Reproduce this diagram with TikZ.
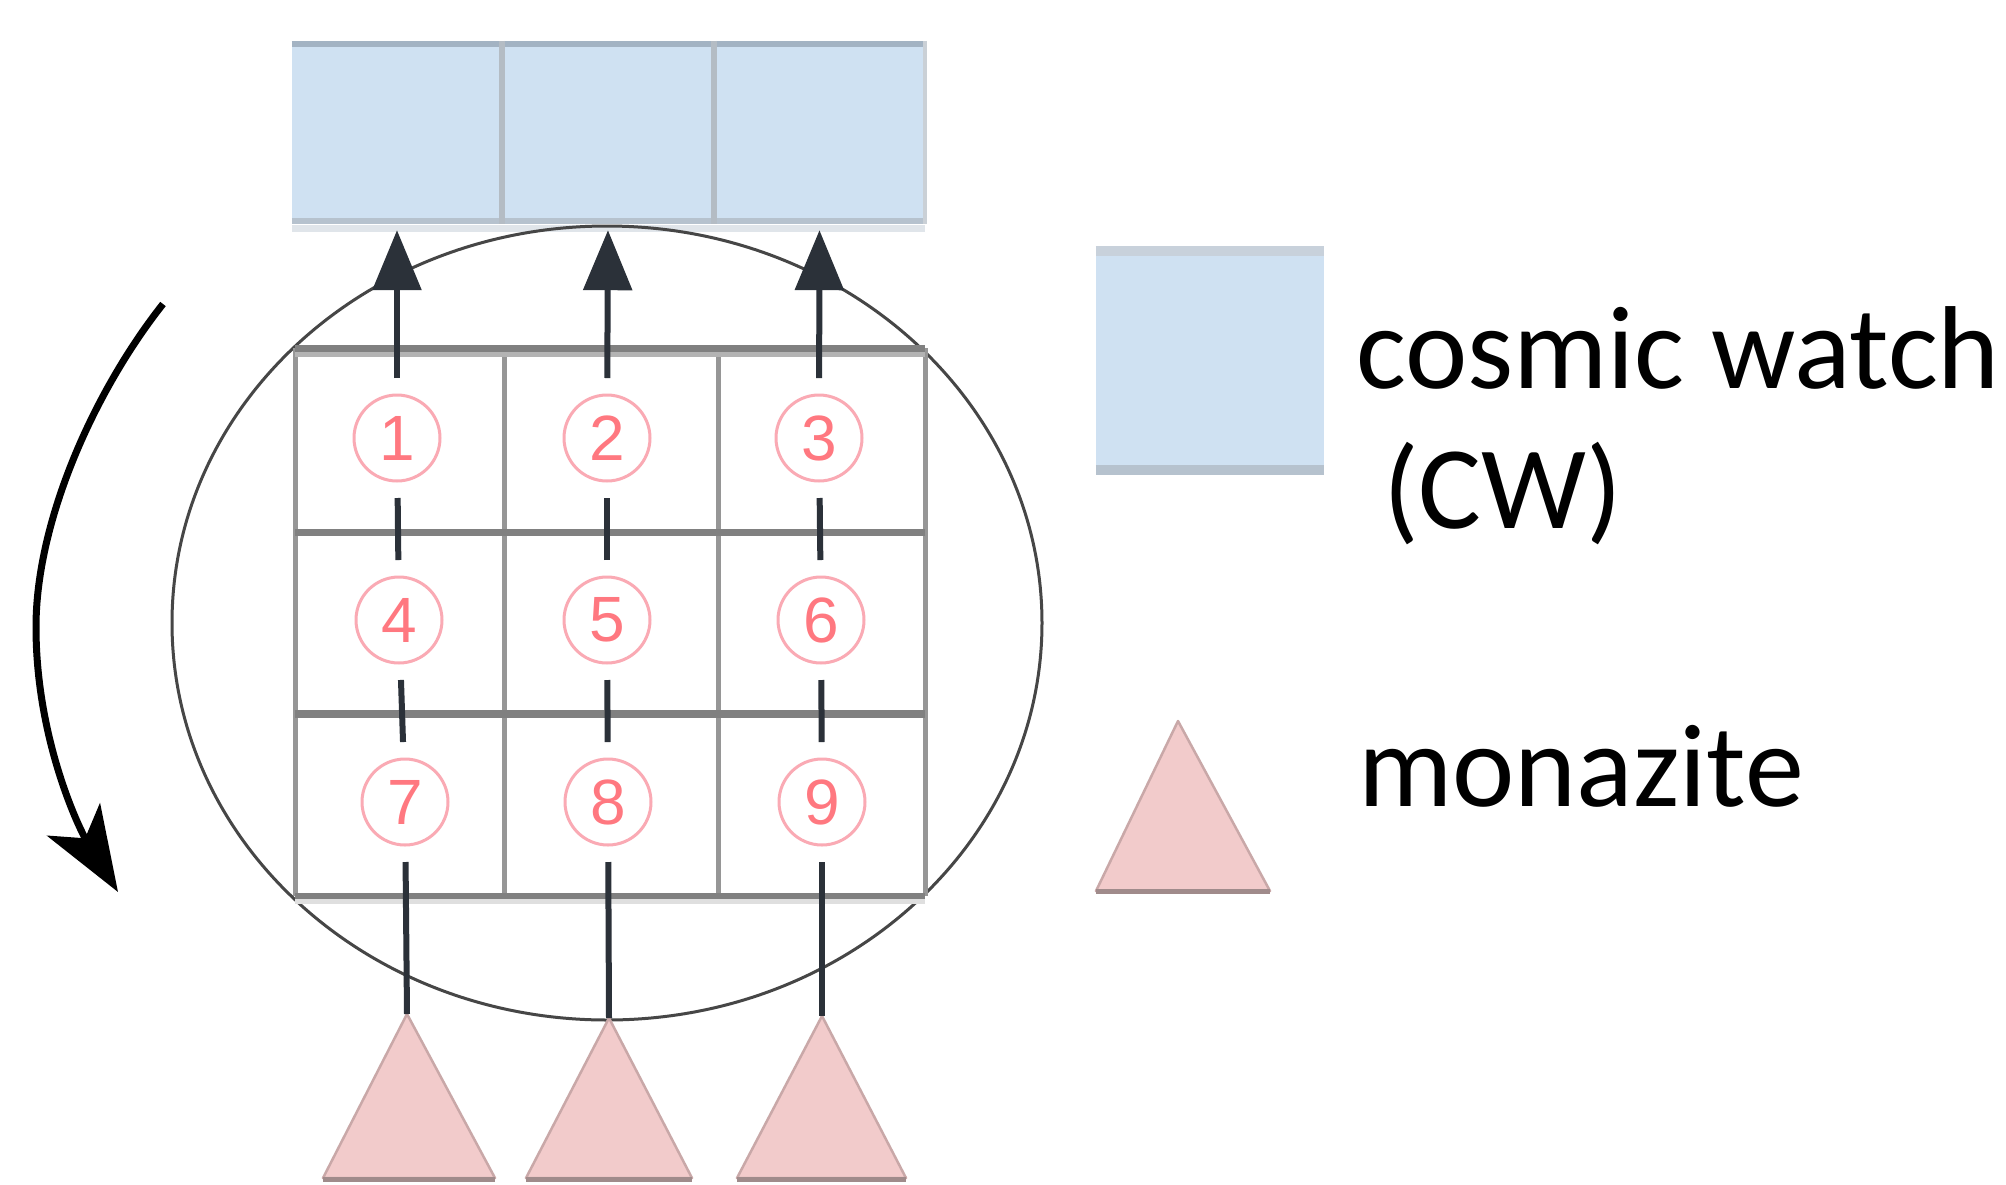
\documentclass[tikz,border=0pt]{standalone}
\usepackage{fontspec}
\setmainfont{Carlito}
\newfontfamily\digitfont{Liberation Sans}
\usetikzlibrary{arrows.meta}
\definecolor{cwblue}{RGB}{207,225,242}
\definecolor{cwtop}{RGB}{163,179,195}
\definecolor{cwbot}{RGB}{182,194,206}
\definecolor{cwlight}{RGB}{224,229,234}
\definecolor{cwdiv}{RGB}{180,188,196}
\definecolor{gridc}{RGB}{128,128,128}
\definecolor{gridv}{RGB}{150,150,150}
\definecolor{ellc}{RGB}{70,70,70}
\definecolor{arrowc}{RGB}{43,49,57}
\definecolor{digitc}{RGB}{255,120,128}
\definecolor{digitring}{RGB}{250,170,180}
\definecolor{monac}{RGB}{242,203,203}
\definecolor{monaedge}{RGB}{201,168,168}
\definecolor{monabase}{RGB}{160,139,139}
\tikzset{
  cwbox/.style={fill=cwblue, draw=none, inner sep=0pt, minimum height=183pt},
  digit/.style={ellipse-free, circle, draw=digitring, line width=3pt, inner sep=0pt,
    minimum size=86pt, outer sep=17pt, text=digitc, font=\digitfont\fontsize{64}{64}\selectfont},
  ellipse-free/.style={},
  flow/.style={draw=arrowc, line width=6pt},
  flowup/.style={flow, -{Triangle[length=60pt,width=48pt]}, shorten >=6pt},
  mona/.style={fill=monac, draw=monaedge, line width=2.5pt, line join=round},
  monabaseline/.style={draw=monabase, line width=5pt},
  label/.style={inner sep=0pt, anchor=base west, font=\fontsize{118}{140}\selectfont},
}
\begin{document}
\begin{tikzpicture}[x=1pt,y=-1pt]
\useasboundingbox (0,0) rectangle (2006,1184);
\fill[white] (0,0) rectangle (2006,1184);

% detector boxes (cosmic watches)
\node[cwbox, minimum width=210pt] (b1) at (397,132.5) {};
\node[cwbox, minimum width=212pt] (b2) at (608,132.5) {};
\node[cwbox, minimum width=211pt] (b3) at (819.5,132.5) {};
\draw[cwtop, line width=6pt] (b1.north west) ++(0,3) -- ([yshift=-3pt]b3.north east);
\draw[cwbot, line width=6pt] (b1.south west) ++(0,-3) -- ([yshift=3pt]b3.south east);
\draw[cwlight, line width=7pt] (b1.south west) ++(0,4) -- ([yshift=-4pt]b3.south east);
\draw[cwdiv, line width=6pt] (b1.north east) -- (b1.south east);
\draw[cwdiv, line width=6pt] (b2.north east) -- (b2.south east);
\draw[cwdiv!70, line width=4pt] (b3.north east) -- (b3.south east);

% rotating frame
\draw[ellc, line width=3pt] (607,623) ellipse [x radius=435, y radius=397];

% grid of sample positions
\draw[gridv, line width=5pt] (295,348) -- (295,896);
\draw[gridv, line width=5pt] (504,348) -- (504,896);
\draw[gridv, line width=5pt] (718,348) -- (718,896);
\draw[gridv, line width=5pt] (925,348) -- (925,896);
\draw[gridc!60, line width=5pt] (295,354) -- (925,354);
\draw[gridc!25, line width=6pt] (295,901) -- (925,901);
\draw[gridc, line width=7pt] (295,348) -- (925,348);
\draw[gridc, line width=7pt] (295,532) -- (925,532);
\draw[gridc, line width=8pt] (295,714) -- (925,714);
\draw[gridc, line width=6pt] (295,896) -- (925,896);

% position labels
\node[digit] (n1) at (397,438) {1};
\node[digit] (n2) at (607,438) {2};
\node[digit] (n3) at (819,438) {3};
\node[digit] (n4) at (399,620) {4};
\node[digit] (n5) at (607,620) {5};
\node[digit] (n6) at (821,620) {6};
\node[digit] (n7) at (405,802) {7};
\node[digit] (n8) at (608,802) {8};
\node[digit] (n9) at (822,802) {9};

% monazite sources
\coordinate (t1) at (407,1014);
\coordinate (t2) at (609,1018);
\coordinate (t3) at (822,1016);
\path[mona] (t1) -- (495,1178) -- (323,1178) -- cycle;
\path[mona] (t2) -- (692,1178) -- (526,1178) -- cycle;
\path[mona] (t3) -- (906,1178) -- (737,1178) -- cycle;
\draw[monabaseline] (323,1179) -- (495,1179);
\draw[monabaseline] (526,1179) -- (692,1179);
\draw[monabaseline] (737,1179) -- (906,1179);

% particle paths
\draw[flow] (t1) -- (n7);
\draw[flow] (n7) -- (n4);
\draw[flow] (n4) -- (n1);
\draw[flowup] (n1) -- (b1.south);
\draw[flow] (t2) -- (n8);
\draw[flow] (n8) -- (n5);
\draw[flow] (n5) -- (n2);
\draw[flowup] (n2) -- (b2.south);
\draw[flow] (t3) -- (n9);
\draw[flow] (n9) -- (n6);
\draw[flow] (n6) -- (n3);
\draw[flowup] (n3) -- (b3.south);

% rotation arrow
\coordinate (rs) at (163,304);
\coordinate (rm) at (36,627);
\coordinate (re) at (118,892);
\draw[black, line width=7pt, -{Stealth[length=85pt,width=62pt,inset=22pt]}]
  (rs) .. controls (95,390) and (36,520) .. (rm)
       .. controls (36,740) and (80,830) .. (re);

% legend
\node[cwbox, minimum width=228pt, minimum height=229pt] (lb) at (1210,360.5) {};
\draw[cwtop!60, line width=10pt] ([yshift=-5pt]lb.north west) -- ([yshift=-5pt]lb.north east);
\draw[cwbot, line width=10pt] ([yshift=5pt]lb.south west) -- ([yshift=5pt]lb.south east);
\node[label] (lcw) at (1356,388) {cosmic watch};
\node[label] (lcw2) at (1383,528) {(CW)};
\coordinate (lt) at (1178,721);
\path[mona] (lt) -- (1270,891) -- (1096,891) -- cycle;
\draw[monabaseline] (1096,891) -- (1270,891);
\node[label] (lmo) at (1358,806) {monazite};
\end{tikzpicture}
\end{document}
